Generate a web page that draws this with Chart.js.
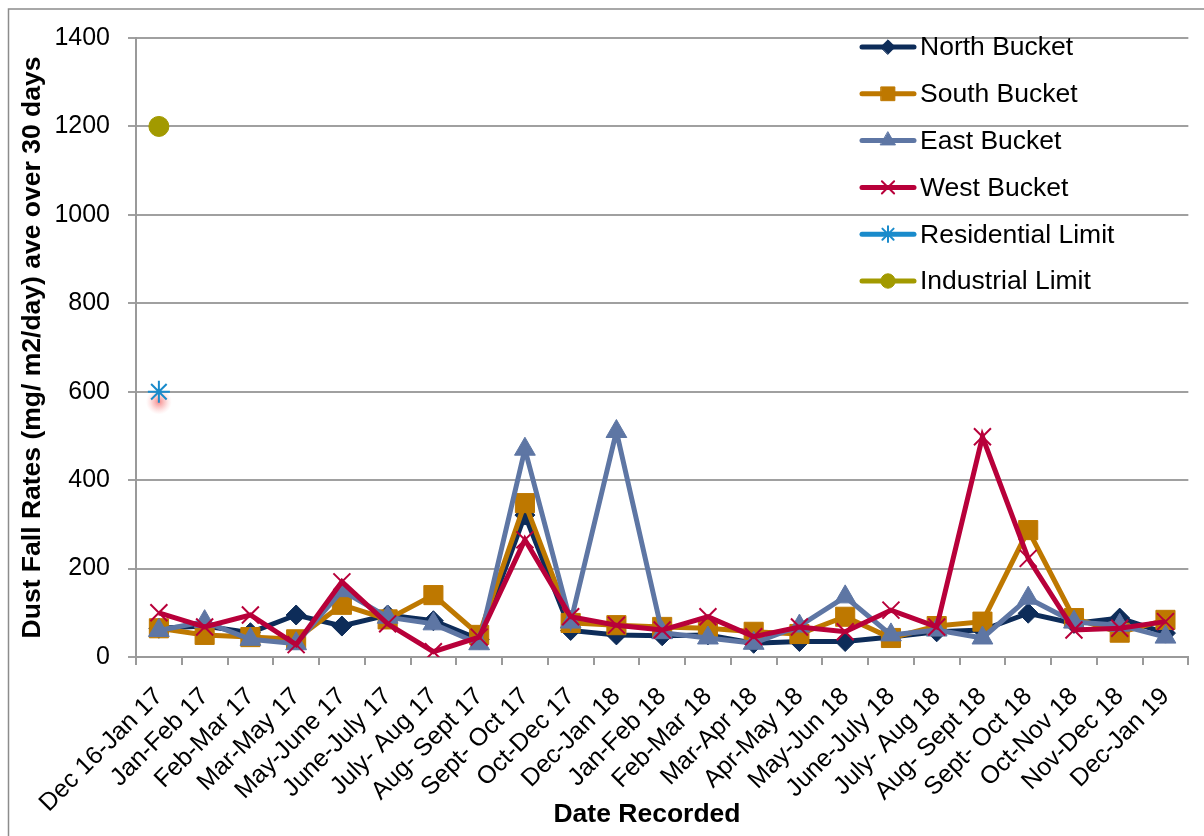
<!DOCTYPE html>
<html>
<head>
<meta charset="utf-8">
<title>Dust Fall Rates</title>
<script src="https://cdn.jsdelivr.net/npm/chart.js@4/dist/chart.umd.min.js"></script>
<style>
  html, body { margin: 0; padding: 0; background: #ffffff; }
  #wrap { position: relative; width: 1204px; height: 836px; }
  canvas { display: block; }
</style>
</head>
<body>
<div id="wrap"><canvas id="dust" width="1204" height="836"></canvas></div>
<script>
// Sampling periods (x categories)
const categories = [
  'Dec 16-Jan 17', 'Jan-Feb 17', 'Feb-Mar 17', 'Mar-May 17', 'May-June 17',
  'June-July 17', 'July- Aug 17', 'Aug- Sept 17', 'Sept- Oct 17', 'Oct-Dec 17',
  'Dec-Jan 18', 'Jan-Feb 18', 'Feb-Mar 18', 'Mar-Apr 18', 'Apr-May 18',
  'May-Jun 18', 'June-July 18', 'July- Aug 18', 'Aug- Sept 18', 'Sept- Oct 18',
  'Oct-Nov 18', 'Nov-Dec 18', 'Dec-Jan 19'
];

// Dust fall, mg/m2/day averaged over 30 days
const northBucket = [65, 70, 55, 95, 70, 95, 82, 40, 321, 60, 50, 48, 50, 31, 35, 35, 45, 57, 61, 99, 76, 88, 54];
const southBucket = [65, 50, 45, 40, 118, 85, 140, 50, 348, 77, 72, 68, 65, 57, 52, 91, 43, 70, 80, 287, 88, 55, 84];
const eastBucket  = [60, 80, 40, 30, 150, 90, 75, 30, 470, 79, 510, 55, 43, 31, 70, 136, 50, 61, 43, 133, 79, 72, 45];
const westBucket  = [100, 68, 95, 28, 170, 75, 12, 45, 265, 91, 72, 61, 91, 46, 68, 57, 106, 68, 498, 223, 61, 65, 80];

// Guideline limits, plotted once at the first period
const residentialLimit = [600];
const industrialLimit  = [1200];

// Value axis
const yMin = 0;
const yMax = 1400;
const yStep = 200;

const FONT = "'Liberation Sans', Arial, sans-serif";
Chart.defaults.font.family = FONT;
Chart.defaults.color = '#000000';

function series(label, data, color, style, radius, borderWidth, order) {
  return {
    label, data, order,
    borderColor: color,
    backgroundColor: color,
    borderWidth: 5,
    pointStyle: style,
    pointRadius: radius,
    pointBackgroundColor: color,
    pointBorderColor: color,
    pointBorderWidth: borderWidth,
    pointHoverRadius: radius,
    tension: 0,
    spanGaps: false
  };
}

const datasets = [
  series('North Bucket', northBucket, '#0D2C59', 'rectRot', 10, 1, 6),
  series('South Bucket', southBucket, '#BE7800', 'rect', 13.5, 1, 5),
  series('East Bucket', eastBucket, '#5E76A4', 'triangle', 12, 1, 4),
  series('West Bucket', westBucket, '#B8003A', 'crossRot', 12, 2, 3),
  series('Residential Limit', residentialLimit, '#1A8BCB', 'star', 11, 2, 2),
  series('Industrial Limit', industrialLimit, '#A29A00', 'circle', 10, 1, 1)
];

// Frame lines along the top and left edges
const framePlugin = {
  id: 'frame',
  beforeDraw(chart) {
    const ctx = chart.ctx;
    ctx.save();
    ctx.fillStyle = '#ffffff';
    ctx.fillRect(0, 0, chart.width, chart.height);
    ctx.strokeStyle = '#8c8c8c';
    ctx.lineWidth = 1.5;
    ctx.beginPath();
    ctx.moveTo(8.5, chart.height + 2);
    ctx.lineTo(8.5, 9);
    ctx.lineTo(chart.width + 2, 9);
    ctx.stroke();
    ctx.restore();
  }
};

// Soft reddish glow under the residential limit marker
const glowPlugin = {
  id: 'glow',
  beforeDatasetDraw(chart, args) {
    if (chart.data.datasets[args.index].label !== 'Residential Limit') return;
    const pt = args.meta.data[0];
    if (!pt) return;
    const ctx = chart.ctx;
    const gx = pt.x, gy = pt.y + 10;
    const g = ctx.createRadialGradient(gx, gy, 0, gx, gy, 13);
    g.addColorStop(0, 'rgba(240,70,70,0.65)');
    g.addColorStop(0.5, 'rgba(245,120,120,0.35)');
    g.addColorStop(1, 'rgba(255,180,180,0)');
    ctx.save();
    ctx.fillStyle = g;
    ctx.beginPath();
    ctx.arc(gx, gy, 13, 0, Math.PI * 2);
    ctx.fill();
    ctx.restore();
  }
};

// Legend drawn inside the plot, top right, with line + marker samples
const legendPlugin = {
  id: 'insideLegend',
  afterDraw(chart) {
    const ctx = chart.ctx;
    chart.data.datasets.forEach((ds, i) => {
      const y = 47 + i * 46.8;
      ctx.save();
      ctx.strokeStyle = ds.borderColor;
      ctx.lineWidth = 5;
      ctx.lineCap = 'round';
      ctx.beginPath();
      ctx.moveTo(862, y);
      ctx.lineTo(914, y);
      ctx.stroke();
      ctx.fillStyle = ds.pointBackgroundColor;
      ctx.strokeStyle = ds.pointBorderColor;
      ctx.lineWidth = ds.pointBorderWidth;
      Chart.helpers.drawPoint(ctx, {
        pointStyle: ds.pointStyle,
        radius: ds.pointRadius * 0.72,
        borderWidth: ds.pointBorderWidth,
        rotation: 0
      }, 888, y);
      ctx.fillStyle = '#000000';
      ctx.font = '26.5px ' + FONT;
      ctx.textAlign = 'left';
      ctx.textBaseline = 'middle';
      ctx.fillText(ds.label, 920, y + 1);
      ctx.restore();
    });
  }
};

// Category axis title
const xTitlePlugin = {
  id: 'xTitle',
  afterDraw(chart) {
    const ctx = chart.ctx;
    ctx.save();
    ctx.fillStyle = '#000000';
    ctx.font = 'bold 26.5px ' + FONT;
    ctx.textAlign = 'center';
    ctx.textBaseline = 'middle';
    ctx.fillText('Date Recorded', 647, 815);
    ctx.restore();
  }
};

new Chart(document.getElementById('dust'), {
  type: 'line',
  data: { labels: categories, datasets },
  options: {
    responsive: false,
    animation: false,
    devicePixelRatio: 1,
    layout: { padding: { top: 38, right: 9, left: 0, bottom: 0 } },
    plugins: {
      legend: { display: false },
      tooltip: { enabled: false }
    },
    scales: {
      x: {
        type: 'category',
        offset: true,
        grid: {
          offset: true,
          drawOnChartArea: false,
          drawTicks: true,
          tickLength: 8,
          color: '#9a9a9a',
          lineWidth: 2
        },
        border: { color: '#9a9a9a', width: 2 },
        ticks: {
          autoSkip: false,
          maxRotation: 45,
          minRotation: 45,
          padding: 17,
          font: { size: 25 },
          color: '#000000'
        },
        afterFit(scale) { scale.height = 179; }
      },
      y: {
        min: yMin,
        max: yMax,
        grid: {
          color: '#a0a0a0',
          lineWidth: 2,
          tickLength: 8,
          drawTicks: true
        },
        border: { color: '#9a9a9a', width: 2 },
        ticks: {
          stepSize: yStep,
          padding: 18,
          font: { size: 25 },
          color: '#000000',
          callback: (v) => String(v)
        },
        title: {
          display: true,
          text: 'Dust Fall Rates (mg/ m2/day) ave over 30 days',
          font: { size: 26.5, weight: 'bold' },
          padding: { top: 17, bottom: 0 },
          color: '#000000'
        },
        afterFit(scale) { scale.width = 136; }
      }
    }
  },
  plugins: [framePlugin, glowPlugin, legendPlugin, xTitlePlugin]
});
</script>
</body>
</html>
